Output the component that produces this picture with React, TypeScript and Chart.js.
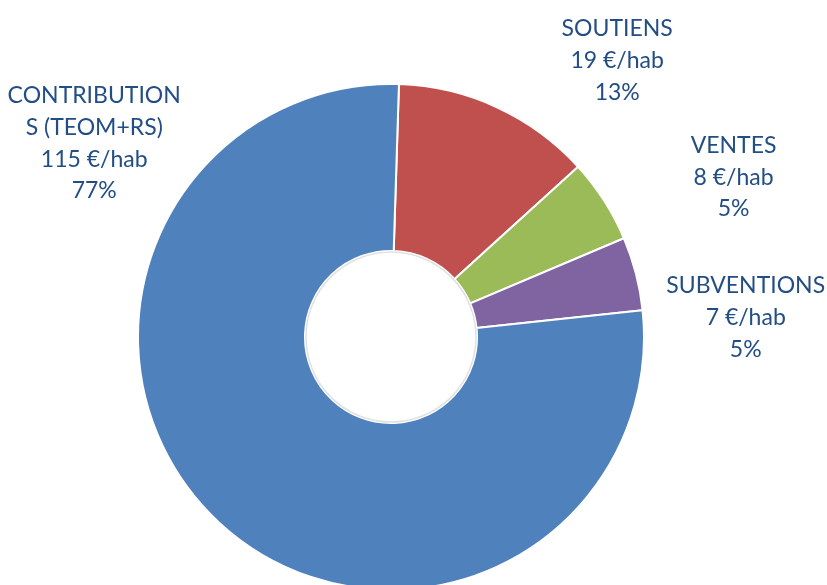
import React, { useEffect, useRef } from "react";
import { Chart, registerables } from "chart.js";

Chart.register(...registerables);

const categories = ["SOUTIENS", "VENTES", "SUBVENTIONS", "CONTRIBUTIONS (TEOM+RS)"];
const labelLines = [
  ["SOUTIENS"],
  ["VENTES"],
  ["SUBVENTIONS"],
  ["CONTRIBUTION", "S (TEOM+RS)"],
];
const valuesEurHab = [19, 8, 7, 115];
const percentLabels = ["13%", "5%", "5%", "77%"];
const colors = ["#C0504D", "#9BBB59", "#8064A2", "#4F81BD"];

// label anchor (center x, first baseline y) relative to doughnut center, in units of outer radius
const LABEL_LAYOUT = [
  { dx: 0.894, dy: -1.189 },
  { dx: 1.354, dy: -0.728 },
  { dx: 1.402, dy: -0.173 },
  { dx: -1.173, dy: -0.925 },
];
const LINE_H = 0.1256; // in units of outer radius

const labelPlugin = {
  id: "outerLabels",
  afterDatasetsDraw(chart: any) {
    const meta = chart.getDatasetMeta(0);
    const ctx = chart.ctx;
    const first = meta.data[0];
    if (!first) return;
    const { x, y, outerRadius, innerRadius } = first.getProps(["x", "y", "outerRadius", "innerRadius"], true);
    // subtle rim around hole
    ctx.save();
    ctx.beginPath();
    ctx.arc(x, y, innerRadius - 1, 0, Math.PI * 2);
    ctx.strokeStyle = "rgba(0,0,0,0.12)";
    ctx.lineWidth = 1.5;
    ctx.stroke();
    ctx.restore();

    ctx.save();
    ctx.fillStyle = "#224E85";
    ctx.font = "23px Lato";
    ctx.textAlign = "center";
    ctx.textBaseline = "alphabetic";
    meta.data.forEach((_: any, i: number) => {
      const lay = LABEL_LAYOUT[i];
      const cx = x + lay.dx * outerRadius;
      let by = y + lay.dy * outerRadius;
      const lines = [...labelLines[i], `${valuesEurHab[i]} €/hab`, percentLabels[i]];
      lines.forEach((t) => {
        ctx.fillText(t, cx, by);
        by += LINE_H * outerRadius;
      });
    });
    ctx.restore();
  },
};

export default function App() {
  const ref = useRef<HTMLCanvasElement>(null);
  useEffect(() => {
    if (!ref.current) return;
    const chart = new Chart(ref.current, {
      type: "doughnut",
      data: {
        labels: categories,
        datasets: [
          {
            data: valuesEurHab,
            backgroundColor: colors,
            borderColor: "#FFFFFF",
            borderWidth: 2,
          },
        ],
      },
      options: {
        animation: false,
        responsive: false,
        rotation: 1.8,
        cutout: "34%",
        layout: { padding: { top: 83, bottom: 4, left: 0, right: 45 } },
        plugins: {
          legend: { display: false },
          tooltip: { enabled: false },
        },
      },
      plugins: [labelPlugin],
    });
    return () => chart.destroy();
  }, []);
  return (
    <div
      style={{
        position: "fixed",
        left: 0,
        top: 0,
        width: 827,
        height: 585,
        overflow: "hidden",
        background: "#fff",
      }}
    >
      <canvas ref={ref} width={827} height={595} style={{ width: 827, height: 595, display: "block" }} />
    </div>
  );
}
